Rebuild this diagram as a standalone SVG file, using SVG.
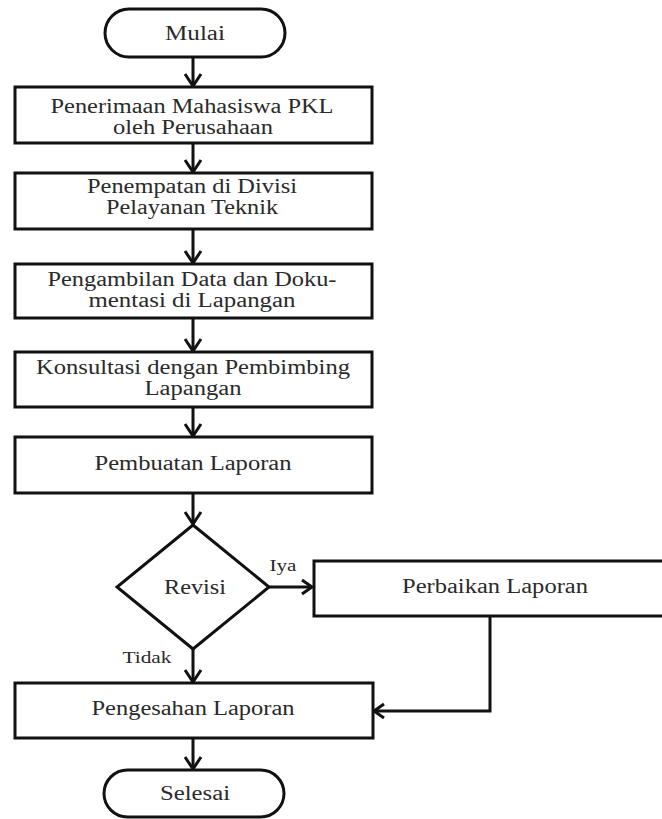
<svg xmlns="http://www.w3.org/2000/svg" width="662" height="819" viewBox="0 0 662 819">
  <style>
    .shape { fill: #ffffff; stroke: #111111; stroke-width: 3; }
    .lbl { font-family: "Liberation Serif", "Times New Roman", serif; font-size: 20px; fill: #2a2a2a; text-anchor: middle; }
    .small { font-size: 16px; }
    .conn { fill: none; stroke: #111111; stroke-width: 3; }
  </style>
  <defs>
    <marker id="arrV" markerUnits="userSpaceOnUse" orient="auto" viewBox="-16 -12 20 24" refX="0" refY="0" markerWidth="20" markerHeight="24" overflow="visible">
      <path d="M-12,-8 L0,0 L-12,8" fill="none" stroke="#111111" stroke-width="3"/>
    </marker>
    <marker id="arrH" markerUnits="userSpaceOnUse" orient="auto" viewBox="-16 -12 20 24" refX="0" refY="0" markerWidth="20" markerHeight="24" overflow="visible">
      <path d="M-10,-7 L0,0 L-10,7" fill="none" stroke="#111111" stroke-width="3"/>
    </marker>
  </defs>

  <g id="connectors">
    <path class="conn" d="M193,57 L193,86" marker-end="url(#arrV)"/>
    <path class="conn" d="M193,143 L193,172" marker-end="url(#arrV)"/>
    <path class="conn" d="M193,229 L193,263" marker-end="url(#arrV)"/>
    <path class="conn" d="M193,318 L193,351" marker-end="url(#arrV)"/>
    <path class="conn" d="M193,407 L193,436" marker-end="url(#arrV)"/>
    <path class="conn" d="M193,493 L193,524" marker-end="url(#arrV)"/>
    <path class="conn" d="M269,587 L312,587" marker-end="url(#arrH)"/>
    <path class="conn" d="M193,649 L193,682" marker-end="url(#arrV)"/>
    <path class="conn" d="M490,616 L490,711 L374,711" marker-end="url(#arrH)"/>
    <path class="conn" d="M193,738 L193,769" marker-end="url(#arrV)"/>
  </g>

  <g id="mulai">
    <rect class="shape" x="105" y="9" width="180" height="48" rx="24" ry="24"/>
    <text class="lbl" x="195" y="40" textLength="60" lengthAdjust="spacingAndGlyphs">Mulai</text>
  </g>

  <g id="penerimaan">
    <rect class="shape" x="15" y="87" width="357" height="56"/>
    <text class="lbl" x="192" y="113" textLength="283" lengthAdjust="spacingAndGlyphs">Penerimaan Mahasiswa PKL</text>
    <text class="lbl" x="193" y="134" textLength="160" lengthAdjust="spacingAndGlyphs">oleh Perusahaan</text>
  </g>

  <g id="penempatan">
    <rect class="shape" x="15" y="173" width="357" height="56"/>
    <text class="lbl" x="192" y="193" textLength="210" lengthAdjust="spacingAndGlyphs">Penempatan di Divisi</text>
    <text class="lbl" x="192" y="214" textLength="172" lengthAdjust="spacingAndGlyphs">Pelayanan Teknik</text>
  </g>

  <g id="pengambilan">
    <rect class="shape" x="15" y="264" width="357" height="54"/>
    <text class="lbl" x="192" y="286" textLength="289" lengthAdjust="spacingAndGlyphs">Pengambilan Data dan Doku-</text>
    <text class="lbl" x="192" y="307" textLength="207" lengthAdjust="spacingAndGlyphs">mentasi di Lapangan</text>
  </g>

  <g id="konsultasi">
    <rect class="shape" x="15" y="352" width="357" height="55"/>
    <text class="lbl" x="193" y="374" textLength="314" lengthAdjust="spacingAndGlyphs">Konsultasi dengan Pembimbing</text>
    <text class="lbl" x="193" y="395" textLength="97" lengthAdjust="spacingAndGlyphs">Lapangan</text>
  </g>

  <g id="pembuatan">
    <rect class="shape" x="15" y="437" width="357" height="56"/>
    <text class="lbl" x="193" y="470" textLength="197" lengthAdjust="spacingAndGlyphs">Pembuatan Laporan</text>
  </g>

  <g id="revisi">
    <polygon class="shape" points="193,525 269,587 193,649 117,587"/>
    <text class="lbl" x="195" y="594" textLength="62" lengthAdjust="spacingAndGlyphs">Revisi</text>
  </g>

  <g id="label-iya">
    <text class="lbl small" x="283" y="571" textLength="27" lengthAdjust="spacingAndGlyphs">Iya</text>
  </g>

  <g id="perbaikan">
    <rect class="shape" x="314" y="561" width="362" height="55"/>
    <text class="lbl" x="495" y="593" textLength="186" lengthAdjust="spacingAndGlyphs">Perbaikan Laporan</text>
  </g>

  <g id="label-tidak">
    <text class="lbl small" x="147" y="663" textLength="49" lengthAdjust="spacingAndGlyphs">Tidak</text>
  </g>

  <g id="pengesahan">
    <rect class="shape" x="15" y="683" width="358" height="55"/>
    <text class="lbl" x="193" y="715" textLength="203" lengthAdjust="spacingAndGlyphs">Pengesahan Laporan</text>
  </g>

  <g id="selesai">
    <rect class="shape" x="104" y="770" width="180" height="47" rx="23.5" ry="23.5"/>
    <text class="lbl" x="195" y="800" textLength="70" lengthAdjust="spacingAndGlyphs">Selesai</text>
  </g>
</svg>
